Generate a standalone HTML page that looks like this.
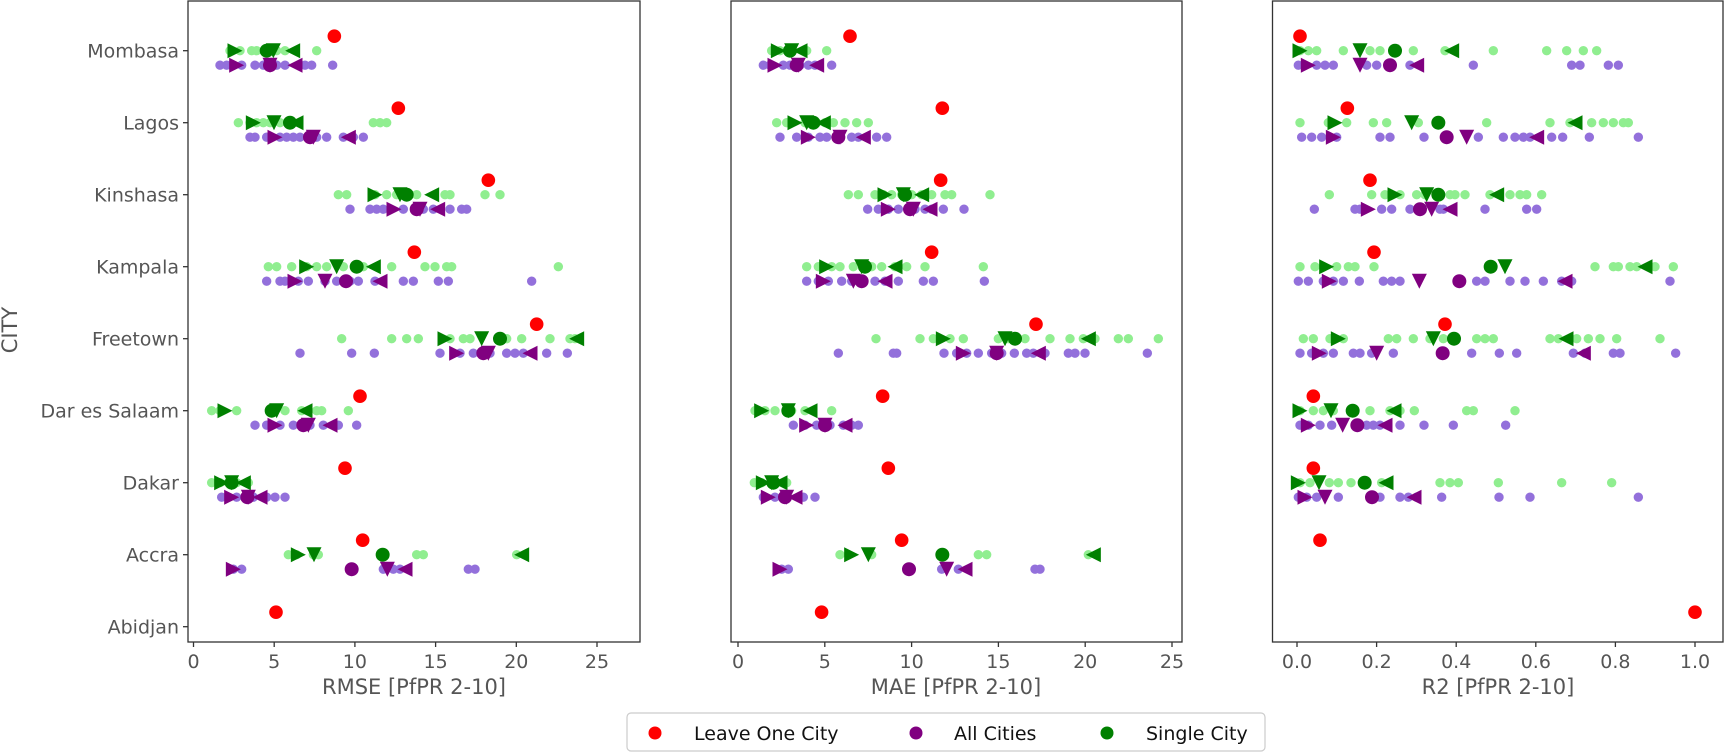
<!DOCTYPE html>
<html><head><meta charset="utf-8"><style>
html,body{margin:0;padding:0;background:#fff;}
svg{display:block;}
text{font-family:"DejaVu Sans","Liberation Sans",sans-serif;}
</style></head><body>
<svg id="s" width="1725" height="752" viewBox="0 0 1725 752" xmlns="http://www.w3.org/2000/svg">
<rect width="1725" height="752" fill="#fff"/>
<g id="pts"></g>
<g fill="none" stroke="#333" stroke-width="1.3">
<rect x="188" y="1" width="452" height="641"/>
<rect x="731" y="1" width="451" height="641"/>
<rect x="1272.5" y="1" width="450.5" height="641"/>
</g>
<g id="ticks" stroke="#333" stroke-width="1.3"></g>
<g font-size="19" fill="#555" text-anchor="end">
<text x="179" y="57.5">Mombasa</text>
<text x="179" y="129.5">Lagos</text>
<text x="179" y="201.5">Kinshasa</text>
<text x="179" y="273.5">Kampala</text>
<text x="179" y="345.5">Freetown</text>
<text x="179" y="417.5">Dar es Salaam</text>
<text x="179" y="489.5">Dakar</text>
<text x="179" y="561.5">Accra</text>
<text x="179" y="633.5">Abidjan</text>
</g>
<text x="17" y="330" font-size="21" fill="#555" text-anchor="middle" transform="rotate(-90 17 330)">CITY</text>
<g font-size="19" fill="#555" text-anchor="middle">
<text x="193.5" y="668">0</text><text x="274.2" y="668">5</text><text x="354.9" y="668">10</text><text x="435.6" y="668">15</text><text x="516.3" y="668">20</text><text x="597" y="668">25</text>
<text x="738" y="668">0</text><text x="824.8" y="668">5</text><text x="911.6" y="668">10</text><text x="998.4" y="668">15</text><text x="1085.2" y="668">20</text><text x="1172" y="668">25</text>
<text x="1297" y="668">0.0</text><text x="1376.6" y="668">0.2</text><text x="1456.2" y="668">0.4</text><text x="1535.8" y="668">0.6</text><text x="1615.4" y="668">0.8</text><text x="1695" y="668">1.0</text>
</g>
<g font-size="21" fill="#555" text-anchor="middle">
<text x="414" y="694">RMSE [PfPR 2-10]</text>
<text x="956" y="694">MAE [PfPR 2-10]</text>
<text x="1498" y="694">R2 [PfPR 2-10]</text>
</g>
<rect x="627" y="713" width="638" height="38" rx="4" fill="#fff" stroke="#ccc" stroke-width="1.2"/>
<circle cx="655" cy="733" r="6.5" fill="#f00"/>
<circle cx="916" cy="733" r="6.5" fill="#800080"/>
<circle cx="1107" cy="733" r="6.5" fill="#008000"/>
<g font-size="19" fill="#111">
<text x="694" y="740">Leave One City</text>
<text x="954" y="740">All Cities</text>
<text x="1146" y="740">Single City</text>
</g>
</svg>
<script>
(function(){
var NS="http://www.w3.org/2000/svg";
var pts=document.getElementById('pts'), tk=document.getElementById('ticks');
function el(n,a,p){var e=document.createElementNS(NS,n);for(var k in a)e.setAttribute(k,a[k]);(p||pts).appendChild(e);return e;}
// ticks
var xs=[[193.5,16.14,5],[738,17.36,5],[1297,398,0.2]];
xs.forEach(function(t){for(var i=0;i<6;i++){var x=t[0]+t[1]*t[2]*i;el('line',{x1:x,y1:642,x2:x,y2:647},tk);}});
for(var r=0;r<9;r++){var y=50.7+72*r;el('line',{x1:183,y1:y,x2:188,y2:y},tk);}
function ry(r){return 50.7+72*r;}
function circ(x,y,rad,c){el('circle',{cx:x,cy:y,r:rad,fill:c});}
function tri(x,y,type,c){var s=7.5,p;
 if(type=='R')p=[[x-s,y-s],[x+s,y],[x-s,y+s]];
 else if(type=='L')p=[[x+s,y-s],[x-s,y],[x+s,y+s]];
 else p=[[x-s,y-s],[x+s,y-s],[x,y+s]];
 el('polygon',{points:p.map(function(q){return q.join(',');}).join(' '),fill:c});}
// data: [ox, row, red, LG, G{R,C,D,L}, LP, P{R,C,D,L}]
var D=[
// panel1
[170,0,493,[180,210,245,260,290,320,345,440],[195,290,310,368],[150,170,215,255,280,320,345,405,425,488],[200,300,300,375]],
[170,1,685,[205,240,260,280,300,330,360,610,630,650],[250,360,312,378],[240,255,290,330,350,370,390,440,470,520,550,580],[315,420,430,535]],
[170,2,955,[505,530,615,650,680,720,740,825,840,945,990],[615,710,690,785],[540,600,620,640,700,760,790,840,875,890],[672,740,750,803]],
[170,3,733,[295,320,365,410,440,470,520,560,580,665,765,795,830,845,1165],[410,560,500,610],[290,330,345,385,415,465,500,540,565,615,700,730,805,835,1085],[375,528,465,630]],
[170,4,1100,[515,665,710,745,840,880,900,1010,1055,1140,1200,1215],[825,990,935,1220],[390,545,613,810,870,910,960,1010,1035,1060,1130,1192],[860,940,955,1080]],
[170,5,570,[125,150,200,300,345,395,440,455,535],[165,305,320,405],[255,290,330,370,420,460,505,560],[315,400,415,480]],
[170,6,525,[125,150,175,200,235],[155,185,185,220],[155,200,250,290,315,345],[185,232,235,270]],
[170,7,578,[355,380,430,445,740,760,1040],[385,638,432,1055],[190,215,640,670,690,895,915],[190,545,652,705]],
// panel2
[725,0,375,[140,165,195,245,305],[160,195,200,225],[115,135,175,195,225,250,270,320],[150,215,220,275]],
[725,1,652,[155,185,240,275,300,325,360,395,430],[210,265,245,295],[165,215,250,285,305,345,380,400,455,485],[250,340,345,415]],
[725,2,647,[370,400,450,475,500,530,560,590,620,660,680,795],[480,540,535,590],[428,460,490,520,570,600,620,655,717],[490,555,565,615]],
[725,3,620,[245,280,320,345,385,440,470,510,545,600,775],[305,420,410,510],[245,280,310,350,380,450,480,520,595,625,778],[295,410,385,480]],
[725,4,933,[453,585,625,675,715,820,850,900,975,1035,1075,1110,1180,1210,1300],[655,870,840,1090],[340,505,515,657,695,725,760,800,830,868,905,925,960,1030,1050,1080,1267],[715,815,815,940]],
[725,5,473,[90,120,150,200,240,320],[110,190,190,255],[205,240,275,315,355,380,400],[245,300,300,360]],
[725,6,490,[88,110,150,185],[115,145,140,165],[115,150,180,235,270],[130,180,185,210]],
[725,7,530,[345,370,440,760,785,1090],[380,652,430,1105],[170,190,650,700,930,945],[165,552,665,720]],
// panel3
[1270,0,90,[90,115,140,220,300,330,430,525,670,830,890,940,980],[90,375,270,545],[85,100,140,165,190,290,320,420,610,905,930,1015,1045],[115,360,270,440]],
[1270,1,232,[90,175,230,310,350,445,650,840,900,965,1000,1030,1060,1075],[195,505,425,915],[95,125,155,200,330,360,462,625,700,735,760,780,845,878,958,1105],[190,530,590,800]],
[1270,2,300,[178,305,345,390,440,465,540,555,585,660,720,750,770,815],[375,505,470,680],[133,255,270,335,365,420,510,520,645,770,800],[295,450,485,540]],
[1270,3,312,[90,135,160,200,235,255,312,975,1030,1045,1080,1100,1155,1210],[170,662,705,1125],[85,115,160,190,220,268,340,365,390,620,645,720,765,820,875,905,1200],[178,568,448,885]],
[1270,4,525,[100,130,180,220,355,380,430,480,520,620,645,670,840,865,920,955,990,1040,1170],[205,552,490,888],[90,125,160,190,250,270,305,370,605,688,740,910,945,1030,1050,1217],[148,518,320,940]],
[1270,5,130,[90,130,160,190,300,360,390,433,590,610,735],[90,248,183,372],[90,115,150,185,290,310,330,390,462,550,707],[115,262,218,345]],
[1270,6,130,[90,120,178,205,243,335,510,540,565,685,875,1025],[85,284,147,348],[85,110,140,205,330,390,415,440,515,687,780,1105],[105,306,165,432]],
[1270,7,150,[],null,[],null]
];
var reds=[];
D.forEach(function(d){
 var ox=d[0],y=ry(d[1]);
 function X(v){return ox+v/3;}
 d[3].forEach(function(v){circ(X(v),y,4.7,'#90ee90');});
 d[5].forEach(function(v){circ(X(v),y+14.5,4.7,'#9370db');});
 if(d[4]){var g=d[4];tri(X(g[0]),y,'R','#008000');tri(X(g[2]),y,'D','#008000');circ(X(g[1]),y,7,'#008000');tri(X(g[3]),y,'L','#008000');}
 if(d[6]){var p=d[6],yp=y+14.5;tri(X(p[0]),yp,'R','#800080');tri(X(p[2]),yp,'D','#800080');circ(X(p[1]),yp,7,'#800080');tri(X(p[3]),yp,'L','#800080');}
 reds.push([X(d[2]),y-14.5]);
});
reds.push([276,ry(8)-14.5],[821.6,ry(8)-14.5],[1695,ry(8)-14.5]);
reds.forEach(function(q){circ(q[0],q[1],6.8,'#ff0000');});
})();
</script>
</body></html>
